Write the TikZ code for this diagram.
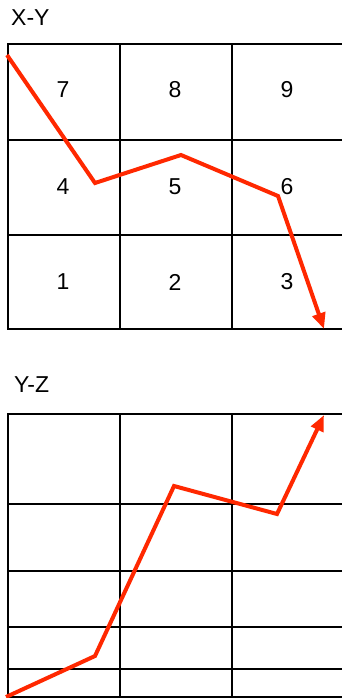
\documentclass[tikz,border=0pt]{standalone}
\usepackage{fontspec}
\setmainfont{Liberation Sans}
\usetikzlibrary{arrows.meta}
\definecolor{pathred}{RGB}{255,40,0}
\begin{document}
\begin{tikzpicture}[x=1pt,y=-1pt,
  gridline/.style={black,line width=1.9pt},
  redpath/.style={pathred,line width=4pt,line join=miter,-{Triangle[length=16pt,width=13pt]}},
  cell/.style={font=\fontsize{23}{25}\selectfont,inner sep=0pt},
  title/.style={font=\fontsize{23}{25}\selectfont,inner sep=0pt,anchor=west}]
\useasboundingbox (0,0) rectangle (341,698);
% X-Y grid
\node[title] (xy) at (11,18) {X-Y};
\draw[gridline] (343,44) -- (8,44) -- (8,329) -- (343,329);
\draw[gridline] (8,140) -- (343,140);
\draw[gridline] (8,235) -- (343,235);
\draw[gridline] (120,44) -- (120,329);
\draw[gridline] (232,44) -- (232,329);
\node[cell] (c7) at (63,90) {7};
\node[cell] (c8) at (175,90) {8};
\node[cell] (c9) at (287,90) {9};
\node[cell] (c4) at (63,187) {4};
\node[cell] (c5) at (175,187) {5};
\node[cell] (c6) at (287,187) {6};
\node[cell] (c1) at (63,282) {1};
\node[cell] (c2) at (175,282) {2};
\node[cell] (c3) at (287,282) {3};
\coordinate (a0) at (7,55);
\coordinate (a1) at (95,183);
\coordinate (a2) at (181,155);
\coordinate (a3) at (278,196);
\coordinate (a4) at (324,329);
\draw[redpath] (a0) -- (a1) -- (a2) -- (a3) -- (a4);
% Y-Z grid
\node[title] (yz) at (14,385) {Y-Z};
\draw[gridline] (343,414) -- (8,414) -- (8,699);
\draw[gridline] (8,504) -- (343,504);
\draw[gridline] (8,571) -- (343,571);
\draw[gridline] (8,627) -- (343,627);
\draw[gridline] (8,669) -- (343,669);
\draw[gridline] (8,697) -- (343,697);
\draw[gridline] (120,414) -- (120,699);
\draw[gridline] (232,414) -- (232,699);
\coordinate (b0) at (6,697);
\coordinate (b1) at (95,656);
\coordinate (b2) at (174,486);
\coordinate (b3) at (277,514);
\coordinate (b4) at (324,415);
\draw[redpath] (b0) -- (b1) -- (b2) -- (b3) -- (b4);
\end{tikzpicture}
\end{document}
